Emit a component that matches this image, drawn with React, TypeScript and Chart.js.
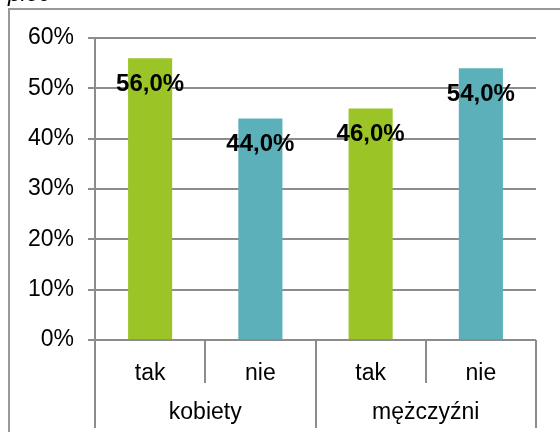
import React, { useEffect, useRef } from 'react';
import { Chart, registerables } from 'chart.js';

Chart.register(...registerables);

const subCategories = ['tak', 'nie', 'tak', 'nie'];
const groups = ['kobiety', 'mężczyźni'];
const values = [56, 44, 46, 54];
const barColors = ['#9BC526', '#5BB0BA', '#9BC526', '#5BB0BA'];
const yMax = 60;
const yStep = 10;
const titleText = 'płeć';

const FONT = '"Liberation Sans", Arial, sans-serif';
const GRID = '#8c8c8c';

export default function App() {
  const ref = useRef<HTMLCanvasElement>(null);

  useEffect(() => {
    document.body.style.margin = '0';
    const canvas = ref.current;
    if (!canvas) return;

    const overlay = {
      id: 'overlay',
      afterDatasetsDraw(chart: any) {
        const ctx = chart.ctx;
        const meta = chart.getDatasetMeta(0);
        ctx.save();
        ctx.font = `bold 24px ${FONT}`;
        ctx.fillStyle = '#000';
        ctx.textAlign = 'center';
        ctx.textBaseline = 'middle';
        meta.data.forEach((bar: any, i: number) => {
          const txt = values[i].toFixed(1).replace('.', ',') + '%';
          ctx.fillText(txt, bar.x, bar.y + 26);
        });
        ctx.restore();
      },
      afterDraw(chart: any) {
        const ctx = chart.ctx;
        const xs = chart.scales.x;
        const area = chart.chartArea;
        ctx.save();
        ctx.strokeStyle = GRID;
        ctx.lineWidth = 2;
        for (let i = 0; i <= subCategories.length; i++) {
          const px = Math.round(xs.getPixelForValue(i - 0.5));
          const long = i % 2 === 0;
          ctx.beginPath();
          ctx.moveTo(px, area.bottom);
          ctx.lineTo(px, long ? chart.height - 4 : area.bottom + 43);
          ctx.stroke();
        }
        ctx.font = `23px ${FONT}`;
        ctx.fillStyle = '#000';
        ctx.textAlign = 'center';
        ctx.textBaseline = 'middle';
        groups.forEach((g, gi) => {
          const cx = xs.getPixelForValue(gi * 2 + 0.5);
          ctx.fillText(g, cx, area.bottom + 73);
        });
        // outer frame
        ctx.strokeStyle = '#999';
        ctx.lineWidth = 2;
        ctx.beginPath();
        ctx.moveTo(9, chart.height);
        ctx.lineTo(9, 9);
        ctx.lineTo(chart.width, 9);
        ctx.stroke();
        // cut-off title
        ctx.font = `italic 23px ${FONT}`;
        ctx.textAlign = 'left';
        ctx.textBaseline = 'alphabetic';
        ctx.fillText(titleText, 8, 1);
        ctx.restore();
      },
    };

    const chart = new Chart(canvas, {
      type: 'bar',
      data: {
        labels: subCategories,
        datasets: [
          {
            data: values,
            backgroundColor: barColors,
            borderWidth: 0,
            barPercentage: 0.4,
            categoryPercentage: 1,
          },
        ],
      },
      options: {
        responsive: false,
        animation: false,
        layout: { padding: { top: 38, right: 24, left: 0, bottom: 0 } },
        plugins: {
          legend: { display: false },
          tooltip: { enabled: false },
        },
        scales: {
          x: {
            grid: { display: false },
            border: { display: false },
            ticks: { color: '#000', font: { family: FONT, size: 23 }, padding: 12 },
            afterFit: (s: any) => {
              s.height = 92;
            },
          },
          y: {
            min: 0,
            max: yMax,
            ticks: {
              stepSize: yStep,
              callback: (v: any) => v + '%',
              color: '#000',
              font: { family: FONT, size: 23 },
              padding: 14,
            },
            grid: { color: GRID, lineWidth: 2, tickLength: 7 },
            border: { color: GRID, width: 2 },
            afterFit: (s: any) => {
              s.width = 95;
            },
          },
        },
      },
      plugins: [overlay],
    });

    return () => chart.destroy();
  }, []);

  return <canvas ref={ref} width={560} height={432} style={{ display: 'block', width: 560, height: 432 }} />;
}
